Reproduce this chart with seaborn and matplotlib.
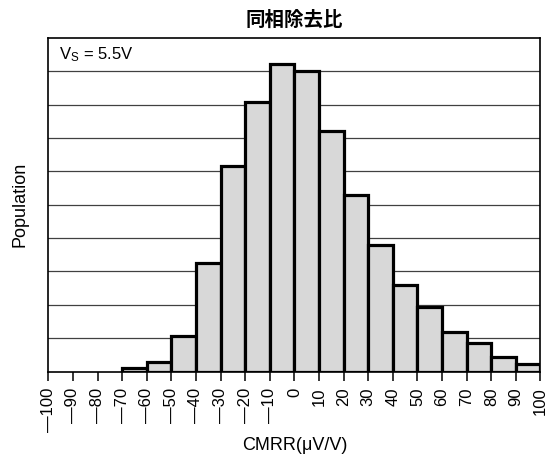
import numpy as np
import pandas as pd
import matplotlib
matplotlib.use("Agg")
import matplotlib.pyplot as plt
import seaborn as sns

# Histogram of common-mode rejection ratio (bin left edges in µV/V, relative population)
bin_left = [-70, -60, -50, -40, -30, -20, -10, 0, 10, 20, 30, 40, 50, 60, 70, 80, 90]
population = [0.1, 0.3, 1.07, 3.25, 6.15, 8.08, 9.23, 9.01, 7.2, 5.28, 3.8, 2.58,
              1.93, 1.17, 0.85, 0.43, 0.22]
tick_values = list(range(-100, 101, 10))
tick_labels = [str(v).replace("-", "\u2014") for v in tick_values]

title_text = "同相除去比"
x_label = "CMRR(\u03bcV/V)"
y_label = "Population"
note_text = "V$_{\\rm S}$ = 5.5V"

sns.set_theme(style="white")
plt.rcParams["font.family"] = ["Liberation Sans", "Noto Sans CJK JP", "DejaVu Sans"]
plt.rcParams["mathtext.fontset"] = "custom"
plt.rcParams["mathtext.rm"] = "Liberation Sans"
plt.rcParams["mathtext.it"] = "Liberation Sans:italic"
plt.rcParams["text.color"] = "black"
plt.rcParams["axes.labelcolor"] = "black"
plt.rcParams["xtick.color"] = "black"

df = pd.DataFrame({"center": np.array(bin_left) + 5, "population": population})

fig, ax = plt.subplots(figsize=(5.47, 4.59), dpi=100)
fig.subplots_adjust(left=0.0883, right=0.9881, top=0.9172, bottom=0.1906)

# horizontal grid lines behind the bars
for yv in range(1, 10):
    ax.axhline(yv, color="0.25", lw=0.9, zorder=0)

sns.histplot(data=df, x="center", weights="population",
             binwidth=10, binrange=(bin_left[0], bin_left[-1] + 10), ax=ax,
             color="#d8d8d8", edgecolor="black", linewidth=2.3, alpha=1.0,
             zorder=2)

ax.set_xlim(-100, 100)
ax.set_ylim(0, 10)
ax.set_yticks([])
ax.set_xticks(tick_values)
ax.set_xticklabels(tick_labels, rotation=90, fontsize=12)
ax.tick_params(axis="x", direction="out", length=6.5, width=1.1, color="black",
               labelcolor="black", bottom=True, pad=5)

ax.set_xlabel(x_label, fontsize=13)
ax.xaxis.set_label_coords(0.5, -0.197)
ax.set_ylabel(y_label, fontsize=13)
ax.yaxis.set_label_coords(-0.040, 0.5)
ax.set_title(title_text, fontsize=14, fontweight="bold",
             family=["Noto Sans CJK JP", "DejaVu Sans"], pad=9)

ax.text(0.022, 0.979, note_text, transform=ax.transAxes, fontsize=12,
        ha="left", va="top")

for sp in ax.spines.values():
    sp.set_visible(True)
    sp.set_color("black")
    sp.set_linewidth(1.2)
    sp.set_zorder(3)

fig.savefig("out.png", dpi=100)
